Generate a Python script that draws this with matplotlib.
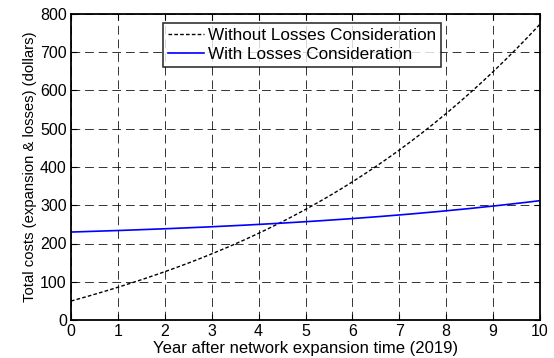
import matplotlib.pyplot as plt
import numpy as np

plt.rcParams['font.family'] = ['Liberation Sans', 'DejaVu Sans']

# Dados
years = [0, 1, 2, 3, 4, 5, 6, 7, 8, 9, 10]
without_losses = [50, 85, 125, 175, 225, 290, 362, 443, 541, 648, 774]
with_losses = [230, 234, 238, 244, 250, 257, 265, 275, 285, 298, 312]

fig = plt.figure(figsize=(5.54, 3.58), dpi=100)
ax = fig.add_axes([71/554, 1 - 320/358, (540-71)/554, (320-14)/358])

# Interpolacao suave so para desenhar as curvas
xs = np.linspace(0, 10, 200)
c1 = np.polyfit(years, without_losses, 3)
c2 = np.polyfit(years, with_losses, 3)
ax.plot(xs, np.polyval(c1, xs), 'k--', lw=1, dashes=(2.6, 1.6), label='Without Losses Consideration')
ax.plot(xs, np.polyval(c2, xs), color='#0000ff', lw=1.2, label='With Losses Consideration')

ax.set_xlim(0, 10)
ax.set_ylim(0, 800)
ax.set_xticks(range(0, 11))
ax.set_yticks(range(0, 801, 100))
ax.grid(True, color='black', linestyle=(0, (9, 5)), lw=0.7, alpha=0.8)
ax.tick_params(direction='in', labelsize=11.5, length=4, top=True, right=True, pad=3)
for s in ax.spines.values():
    s.set_linewidth(1.3)

ax.set_xlabel('Year after network expansion time (2019)', fontsize=12, labelpad=1.5)
ax.set_ylabel('Total costs (expansion & losses) (dollars)', fontsize=10.7, labelpad=2)

leg = ax.legend(loc='upper left', bbox_to_anchor=(0.196, 0.970), fontsize=12.3,
                frameon=True, fancybox=False, edgecolor='black', borderpad=0.3,
                labelspacing=0.2, handlelength=2.1, handletextpad=0.25, borderaxespad=0)
leg.get_frame().set_linewidth(1.2)

plt.savefig('out.png', dpi=100)
